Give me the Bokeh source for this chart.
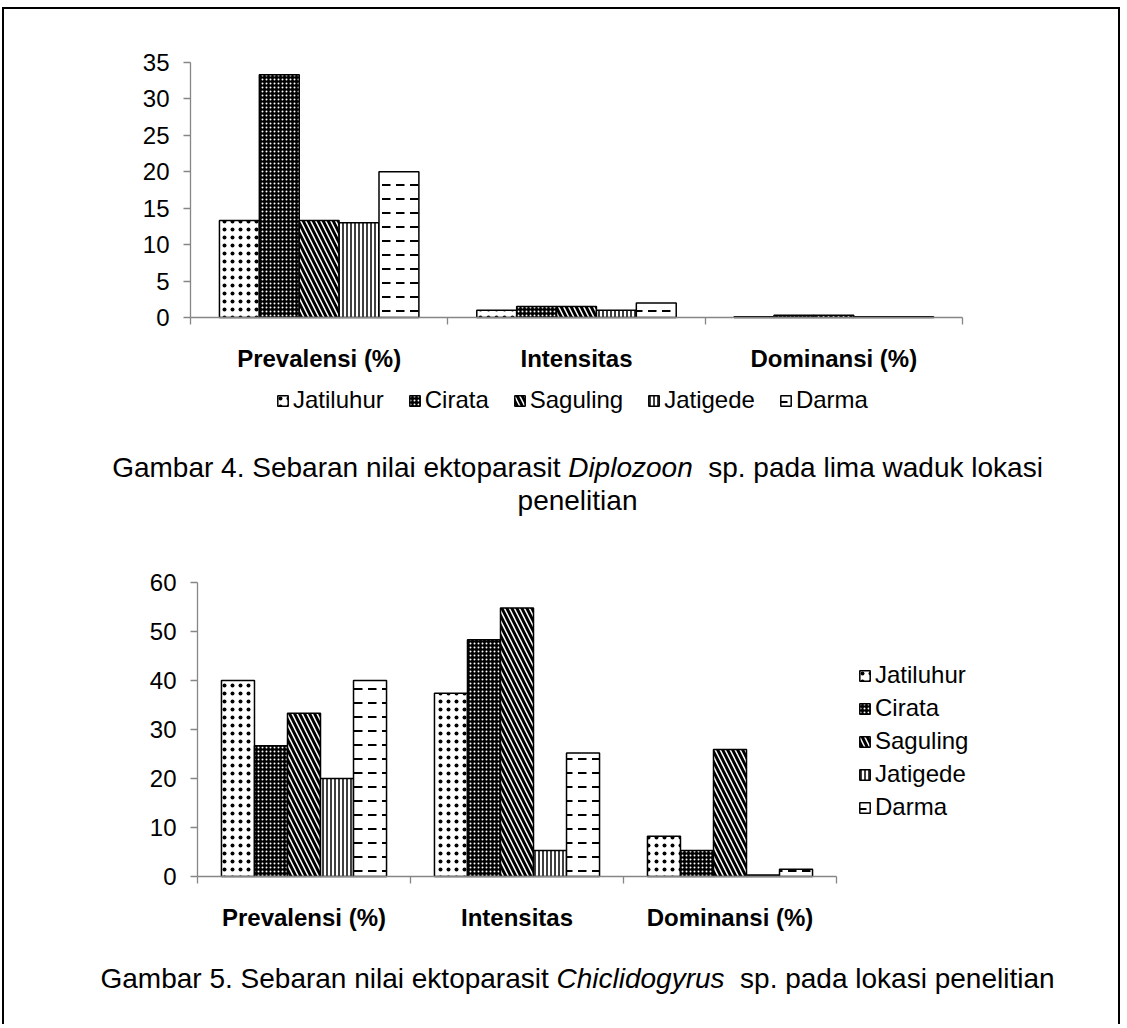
from bokeh.plotting import figure
from bokeh.models import (ColumnDataSource, Range1d, LinearAxis, FixedTicker,
                          Legend, LegendItem, Label)
from bokeh.transform import dodge
from bokeh.embed import file_html
from bokeh.resources import INLINE

# ---------------- data ----------------
categories = ["Prevalensi (%)", "Intensitas", "Dominansi (%)"]
locations = ["Jatiluhur", "Cirata", "Saguling", "Jatigede", "Darma"]

# Gambar 4 - Diplozoon sp.
d4_prevalensi = [13.33, 33.33, 13.33, 13.0, 20.0]
d4_intensitas = [1.0, 1.5, 1.5, 1.0, 2.0]
d4_dominansi = [0.1, 0.3, 0.3, 0.1, 0.1]
d4_yticks = [0, 5, 10, 15, 20, 25, 30, 35]

# Gambar 5 - Chiclidogyrus sp.
c5_prevalensi = [40.0, 26.67, 33.33, 20.0, 40.0]
c5_intensitas = [37.4, 48.3, 54.8, 5.3, 25.2]
c5_dominansi = [8.2, 5.3, 25.9, 0.3, 1.5]
c5_yticks = [0, 10, 20, 30, 40, 50, 60]

cap4_line1 = [("Gambar 4. Sebaran nilai ektoparasit", False, 1), ("Diplozoon", True, 2),
              ("sp. pada lima waduk lokasi", False, 0)]
cap4_line2 = [("penelitian", False, 0)]
cap5_line1 = [("Gambar 5. Sebaran nilai ektoparasit", False, 1), ("Chiclidogyrus", True, 2),
              ("sp. pada lokasi penelitian", False, 0)]

# ---------------- layout / styles ----------------
FONT = "Liberation Sans"
AXIS_GREY = "#868686"
ORIGIN_X, ORIGIN_Y = 4, 9          # page position of the canvas (margin + border)
W, H = 1118, 1017                  # canvas size
BAR_W = 0.155

STYLE = {
    "Jatiluhur": dict(fill_color="white", hatch_pattern="dot", hatch_color="black",
                      hatch_scale=8, hatch_weight=0.4),
    "Cirata": dict(fill_color="black", hatch_pattern="dot", hatch_color="white",
                   hatch_scale=4, hatch_weight=0.5),
    "Saguling": dict(fill_color="white", hatch_pattern="left_diagonal_line", hatch_color="black",
                     hatch_scale=10, hatch_weight=3),
    "Jatigede": dict(fill_color="white", hatch_pattern="vertical_line", hatch_color="black",
                     hatch_scale=4, hatch_weight=1.5),
    "Darma": dict(fill_color="white", hatch_pattern="horizontal_dash", hatch_color="black",
                  hatch_scale=14, hatch_weight=2),
}

_lw = [556, 556, 500, 556, 556, 278, 556, 556, 222, 222, 500, 222, 833, 556, 556, 556, 556,
       333, 500, 278, 556, 500, 722, 500, 500, 500]
_uw = [667, 667, 722, 722, 667, 611, 778, 722, 278, 500, 667, 556, 833, 722, 778, 667, 778,
       722, 667, 611, 722, 667, 944, 667, 667, 611]
AW = dict(zip("abcdefghijklmnopqrstuvwxyz", _lw))
AW.update(zip("ABCDEFGHIJKLMNOPQRSTUVWXYZ", _uw))
AW.update({" ": 278, ".": 278, "(": 333, ")": 333, "%": 889})


def tw(s, size):
    return sum(AW.get(c, 556) for c in s) * size / 1000.0


def sx(px):   # page x -> canvas screen x
    return px - ORIGIN_X


def sy(py):   # page y -> canvas screen y measured from the bottom
    return ORIGIN_Y + H - py


def add_caption(p, parts, page_cx, page_cy, size):
    widths = [tw(t, size) for t, _, _ in parts]
    gaps = [g * tw(" ", size) for _, _, g in parts]
    total = sum(widths) + sum(gaps[:-1])
    x = sx(page_cx) - total / 2.0
    for (t, it, _), w, gp in zip(parts, widths, gaps):
        p.add_layout(Label(x=x, y=sy(page_cy), x_units="screen", y_units="screen", text=t,
                           text_font=FONT, text_font_size=f"{size}px",
                           text_font_style="italic" if it else "normal",
                           text_baseline="middle", text_align="left", text_color="black"))
        x += w + gp


p = figure(width=W, height=H, x_range=Range1d(0, 1), y_range=Range1d(0, 1),
           x_axis_location=None, y_axis_location=None, min_border=0,
           output_backend="svg", toolbar_location=None,
           styles={"margin-left": "2px", "margin-top": "7px",
                   "border-top": "2px solid black", "border-left": "2px solid black",
                   "border-right": "2px solid black"})
p.title.visible = False
p.grid.visible = False
p.xgrid.grid_line_color = None
p.ygrid.grid_line_color = None
p.outline_line_color = None
p.background_fill_color = "white"
p.border_fill_color = "white"

xr, yr = {}, {}


def add_chart(key, vals, yticks, ax_x0, ax_x1, y0_px, ytop_px):
    n = len(categories)
    ymax = yticks[-1]
    kx = (ax_x1 - ax_x0) / n
    ky = (y0_px - ytop_px) / ymax
    xr["x" + key] = Range1d(-(ax_x0 - ORIGIN_X) / kx, n + (ORIGIN_X + W - ax_x1) / kx)
    yr["y" + key] = Range1d(-(ORIGIN_Y + H - y0_px) / ky, ymax + (ytop_px - ORIGIN_Y) / ky)
    p.extra_x_ranges = dict(xr)
    p.extra_y_ranges = dict(yr)

    xa = LinearAxis(x_range_name="x" + key, y_range_name="y" + key, fixed_location=0,
                    bounds=(0, n),
                    ticker=FixedTicker(ticks=[i + 0.5 for i in range(n)],
                                       minor_ticks=list(range(n + 1))),
                    major_label_overrides={i + 0.5: c for i, c in enumerate(categories)})
    xa.axis_line_color = AXIS_GREY
    xa.axis_line_width = 1.3
    xa.major_tick_line_color = None
    xa.major_tick_out = 0
    xa.major_tick_in = 0
    xa.minor_tick_line_color = AXIS_GREY
    xa.minor_tick_line_width = 1.3
    xa.minor_tick_out = 7
    xa.minor_tick_in = 0
    xa.major_label_text_font = FONT
    xa.major_label_text_font_size = "24px"
    xa.major_label_text_font_style = "bold"
    xa.major_label_text_color = "black"
    xa.major_label_standoff = 20
    p.add_layout(xa, "below")

    ya = LinearAxis(x_range_name="x" + key, y_range_name="y" + key, fixed_location=0,
                    bounds=(0, ymax), ticker=FixedTicker(ticks=yticks))
    ya.axis_line_color = AXIS_GREY
    ya.axis_line_width = 1.3
    ya.major_tick_line_color = AXIS_GREY
    ya.major_tick_line_width = 1.3
    ya.major_tick_in = 0
    ya.major_tick_out = 7
    ya.minor_tick_line_color = None
    ya.major_label_text_font = FONT
    ya.major_label_text_font_size = "24px"
    ya.major_label_text_color = "black"
    ya.major_label_standoff = 14
    p.add_layout(ya, "left")

    renderers = []
    for i, loc in enumerate(locations):
        src = ColumnDataSource(dict(cat=categories, xc=[k + 0.5 for k in range(n)],
                                    val=[v[i] for v in vals]))
        r = p.vbar(x=dodge("xc", (i - (len(locations) - 1) / 2) * BAR_W),
                   top="val", bottom=0, width=BAR_W, source=src,
                   x_range_name="x" + key, y_range_name="y" + key,
                   line_color="black", line_width=1.5, **STYLE[loc])
        renderers.append(r)
    return renderers


def make_legend(renderers, orientation, page_left, page_bottom, spacing):
    lg = Legend(items=[LegendItem(label=loc, renderers=[r]) for loc, r in zip(locations, renderers)],
                orientation=orientation, location=(sx(page_left), sy(page_bottom)))
    lg.label_text_font = FONT
    lg.label_text_font_size = "24px"
    lg.label_text_color = "black"
    lg.glyph_width = 13
    lg.glyph_height = 13
    lg.label_standoff = 4
    lg.spacing = spacing
    lg.padding = 0
    lg.margin = 0
    lg.border_line_color = None
    lg.background_fill_alpha = 0
    p.add_layout(lg)


# ---------- chart 1 (Gambar 4) ----------
r1 = add_chart("a", [d4_prevalensi, d4_intensitas, d4_dominansi], d4_yticks,
               ax_x0=190, ax_x1=962, y0_px=317, ytop_px=62)
make_legend(r1, "horizontal", page_left=276, page_bottom=414, spacing=24)
add_caption(p, cap4_line1, 577, 467, 28)
add_caption(p, cap4_line2, 577, 500, 28)

# ---------- chart 2 (Gambar 5) ----------
r2 = add_chart("b", [c5_prevalensi, c5_intensitas, c5_dominansi], c5_yticks,
               ax_x0=197, ax_x1=836, y0_px=876, ytop_px=582)
make_legend(r2, "vertical", page_left=858, page_bottom=821, spacing=5)
add_caption(p, cap5_line1, 577, 978, 28)

open("out.html", "w").write(file_html(p, INLINE))
